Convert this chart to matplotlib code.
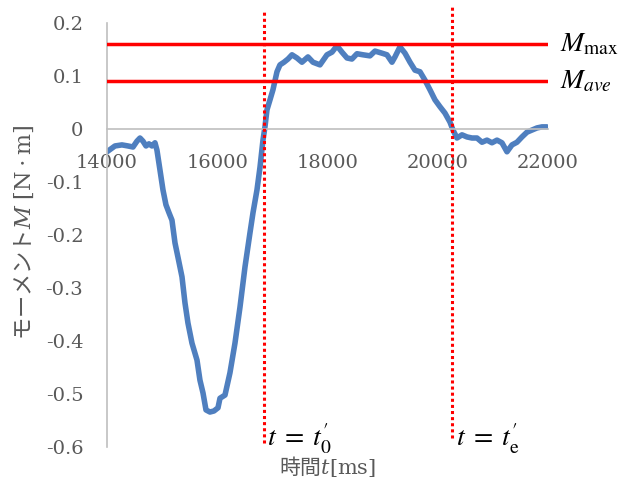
import matplotlib
matplotlib.use("Agg")
import matplotlib.pyplot as plt

# Data
time_ms = [14000, 14145, 14272, 14381, 14472, 14544, 14599, 14653, 14708, 14762,
           14816, 14871, 14907, 14961, 15016, 15070, 15125, 15179, 15234, 15288,
           15361, 15415, 15469, 15542, 15633, 15687, 15742, 15796, 15868, 15941,
           16014, 16050, 16141, 16231, 16322, 16413, 16504, 16594, 16649, 16721,
           16776, 16830, 16866, 16902, 16957, 17011, 17084, 17138, 17211, 17283,
           17356, 17446, 17537, 17646, 17737, 17864, 17991, 18082, 18172, 18263,
           18354, 18444, 18535, 18644, 18771, 18862, 18989, 19079, 19170, 19224,
           19315, 19406, 19497, 19587, 19678, 19769, 19859, 19950, 20041, 20131,
           20222, 20277, 20349, 20440, 20531, 20621, 20712, 20803, 20893, 20984,
           21075, 21165, 21256, 21347, 21437, 21528, 21619, 21709, 21800, 21891,
           21981]
moment = [-0.043, -0.032, -0.030, -0.032, -0.034, -0.023, -0.017, -0.023, -0.032, -0.028,
          -0.032, -0.026, -0.040, -0.077, -0.115, -0.143, -0.158, -0.172, -0.215, -0.242,
          -0.279, -0.328, -0.366, -0.404, -0.436, -0.474, -0.498, -0.530, -0.534, -0.532,
          -0.526, -0.508, -0.502, -0.460, -0.404, -0.336, -0.260, -0.196, -0.158, -0.115,
          -0.072, -0.021, 0.004, 0.036, 0.055, 0.074, 0.108, 0.121, 0.126, 0.132,
          0.140, 0.134, 0.126, 0.136, 0.126, 0.121, 0.140, 0.145, 0.157, 0.145,
          0.134, 0.132, 0.142, 0.140, 0.138, 0.147, 0.143, 0.140, 0.126, 0.136,
          0.155, 0.143, 0.126, 0.111, 0.108, 0.092, 0.074, 0.055, 0.042, 0.030,
          0.013, -0.002, -0.017, -0.011, -0.015, -0.017, -0.017, -0.025, -0.021, -0.026,
          -0.021, -0.026, -0.043, -0.030, -0.025, -0.015, -0.006, -0.002, 0.002, 0.004,
          0.004]

m_max = 0.16
m_ave = 0.09
t_start = 16850
t_end = 20260

xticks = [14000, 16000, 18000, 20000, 22000]
yticks = [-0.6, -0.5, -0.4, -0.3, -0.2, -0.1, 0, 0.1, 0.2]
ytick_labels = ["-0.6", "-0.5", "-0.4", "-0.3", "-0.2", "-0.1", "0", "0.1", "0.2"]

plt.rcParams['font.family'] = ['DejaVu Serif', 'Noto Sans CJK JP']
plt.rcParams['mathtext.fontset'] = 'stix'
plt.rcParams['axes.unicode_minus'] = False

grey = '#595959'
axis_grey = '#bfbfbf'

fig = plt.figure(figsize=(6.23, 4.83), dpi=100)
ax = fig.add_axes([0.1717, 0.0745, 0.7079, 0.8779])

ax.plot(time_ms, moment, color='#4F7FBF', lw=4, solid_capstyle='round', zorder=2)

# M_max / M_ave lines
ax.plot([14000, 22000], [m_max, m_max], color='#ff0000', lw=2.5, zorder=3)
ax.plot([14000, 22000], [m_ave, m_ave], color='#ff0000', lw=2.5, zorder=3)

# dotted markers for t0' and te'
for tv, top, bot in [(t_start, 0.222, -0.592), (t_end, 0.23, -0.583)]:
    ax.plot([tv, tv], [bot, top], color='#ff0000', lw=2.2, ls=(0, (1, 1)),
            clip_on=False, zorder=4)

ax.set_xlim(14000, 22000)
ax.set_ylim(-0.6, 0.2)
ax.set_xticks(xticks)
ax.set_yticks(yticks)
ax.set_yticklabels(ytick_labels)

ax.spines['top'].set_visible(False)
ax.spines['right'].set_visible(False)
ax.spines['bottom'].set_position(('data', 0))
ax.spines['bottom'].set_color(axis_grey)
ax.spines['left'].set_color(axis_grey)
ax.spines['bottom'].set_linewidth(1.2)
ax.spines['left'].set_linewidth(1.2)
ax.tick_params(axis='x', length=0, pad=18, labelsize=14, labelcolor=grey)
ax.tick_params(axis='y', length=0, pad=17, labelsize=14, labelcolor=grey)

# axis titles (non-math part in the CJK font, math part in DejaVu Serif)
ax.text(-0.188, 0.505, r'モーメント$M\ [\mathrm{N\cdot m}]$', transform=ax.transAxes,
        rotation=90, ha='center', va='center', fontsize=16, color=grey,
        family='Noto Sans CJK JP', math_fontfamily='dejavuserif')
ax.text(0.5, -0.047, r'時間$t[\mathrm{ms}]$', transform=ax.transAxes,
        ha='center', va='center', fontsize=15, color=grey,
        family='Noto Sans CJK JP', math_fontfamily='dejavuserif')

# annotations
ax.text(22220, m_max, r'$M_{\mathrm{max}}$', fontsize=20, va='center', ha='left',
        clip_on=False)
ax.text(22220, m_ave, r'$M_{ave}$', fontsize=20, va='center', ha='left',
        clip_on=False)
ax.text(16900, -0.6, r"$t\;=\;t_0^{\prime}$", fontsize=20, va='baseline', ha='left',
        clip_on=False)
ax.text(20330, -0.6, r"$t\;=\;t_{\mathrm{e}}^{\prime}$", fontsize=20, va='baseline',
        ha='left', clip_on=False)

fig.savefig('out.png', dpi=100)
